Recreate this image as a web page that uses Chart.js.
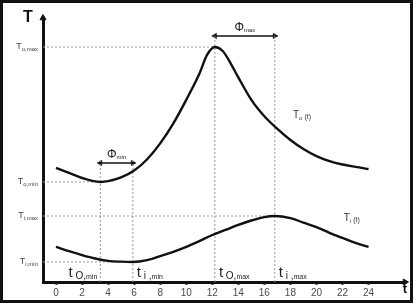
<!DOCTYPE html>
<html>
<head>
<meta charset="utf-8">
<script src="https://cdn.jsdelivr.net/npm/chart.js@4.4.1/dist/chart.umd.min.js"></script>
<style>
html,body{margin:0;padding:0;background:#fff;}
#c{position:absolute;left:0;top:0;}
#frame{position:absolute;left:0;top:0;width:407px;height:297px;border:3px solid #111;pointer-events:none;}
</style>
</head>
<body>
<canvas id="c" width="417" height="306"></canvas>
<div id="frame"></div>
<script>
// data (hours, relative temperature 0..100)
var xTicks = [0, 2, 4, 6, 8, 10, 12, 14, 16, 18, 20, 22, 24];

var toHours = [0, 1, 2, 3.4, 4, 5, 6, 7, 8, 9, 10, 11, 11.6, 12.2, 12.8, 13.3, 14, 15, 16, 17, 18, 19, 20, 21, 22, 23, 24];
var toTemps = [43.2, 41.3, 39.4, 37.9, 38.2, 39.6, 42.2, 46.5, 52.5, 60.0, 69.0, 78.8, 86.0, 89.0, 87.5, 83.8, 77.5, 69.0, 62.8, 58.0, 53.8, 50.4, 47.7, 45.8, 44.5, 43.6, 42.8];

var tiHours = [0, 1, 2, 3, 4, 5, 5.9, 7, 8, 9, 10, 11, 12, 13, 14, 15, 16, 16.8, 18, 19, 20, 21, 22, 23, 24];
var tiTemps = [13.3, 11.7, 10.2, 8.9, 8.0, 7.7, 7.6, 8.3, 9.8, 11.4, 13.3, 15.5, 17.8, 19.7, 21.6, 23.3, 24.6, 25.0, 24.2, 22.5, 20.8, 18.6, 16.7, 14.8, 13.3];

// extremes: T_o,min  T_i,min  T_o,max  T_i,max
var extNames = ['o', 'i', 'o', 'i'];
var extKinds = ['min', 'min', 'max', 'max'];
var extTimes = [3.4, 5.9, 12.2, 16.8];
var extTemps = [37.9, 7.6, 89.0, 25.0];

// phase shift arrows
var phiNames = ['min', 'max'];
var phiLevels = [45.1, 93.2];

var X_MIN = -1, X_MAX = 26.8, Y_MIN = 0, Y_MAX = 100;
var FONT = '"Liberation Sans", Arial, sans-serif';

function pts(xs, ys) {
  return xs.map(function (x, i) { return {x: x, y: ys[i]}; });
}

var datasets = [];
datasets.push({data: pts(toHours, toTemps), borderColor: '#111', borderWidth: 2.4, pointRadius: 0, cubicInterpolationMode: 'monotone'});
datasets.push({data: pts(tiHours, tiTemps), borderColor: '#111', borderWidth: 2.4, pointRadius: 0, cubicInterpolationMode: 'monotone'});

// dotted guide lines
for (var i = 0; i < extTimes.length; i++) {
  var guideTop = phiLevels[i < 2 ? 0 : 1] + 1;
  datasets.push({
    data: [{x: X_MIN, y: extTemps[i]}, {x: extTimes[i], y: extTemps[i]}],
    borderColor: '#999', borderWidth: 1, borderDash: [2, 2], pointRadius: 0, tension: 0
  });
  datasets.push({
    indexAxis: 'y',
    data: [{x: extTimes[i], y: Y_MIN}, {x: extTimes[i], y: guideTop}],
    borderColor: '#999', borderWidth: 1, borderDash: [2, 2], pointRadius: 0, tension: 0
  });
}

// phi arrows
for (var k = 0; k < phiLevels.length; k++) {
  datasets.push({
    data: [{x: extTimes[2 * k], y: phiLevels[k]}, {x: extTimes[2 * k + 1], y: phiLevels[k]}],
    borderColor: '#111', borderWidth: 1.5, tension: 0,
    pointStyle: 'triangle', pointRadius: 3.2, pointRotation: [270, 90],
    pointBackgroundColor: '#111', pointBorderColor: '#111', pointBorderWidth: 0.5
  });
}

// axis arrow heads
datasets.push({data: [{x: X_MIN, y: Y_MAX}], showLine: false, pointStyle: 'triangle', pointRadius: 3.5, pointRotation: 0,
  pointBackgroundColor: '#111', pointBorderColor: '#111', clip: false});
datasets.push({data: [{x: X_MAX, y: Y_MIN}], showLine: false, pointStyle: 'triangle', pointRadius: 3.5, pointRotation: 90,
  pointBackgroundColor: '#111', pointBorderColor: '#111', clip: false});

function drawParts(ctx, x, y, parts, align, color) {
  var w = 0;
  parts.forEach(function (p) {
    ctx.font = (p[3] || '') + ' ' + p[1] + 'px ' + FONT;
    w += ctx.measureText(p[0]).width;
  });
  var cx = align === 'right' ? x - w : (align === 'center' ? x - w / 2 : x);
  ctx.fillStyle = color || '#222';
  ctx.textAlign = 'left';
  ctx.textBaseline = 'alphabetic';
  parts.forEach(function (p) {
    ctx.font = (p[3] || '') + ' ' + p[1] + 'px ' + FONT;
    ctx.fillText(p[0], cx, y + p[2]);
    cx += ctx.measureText(p[0]).width;
  });
}

var labelsPlugin = {
  id: 'labels',
  afterDraw: function (chart) {
    var ctx = chart.ctx, xs = chart.scales.x, ys = chart.scales.y, area = chart.chartArea;
    ctx.save();
    // axis names
    drawParts(ctx, 28, 22, [['T', 16, 0, 'bold']], 'center', '#111');
    drawParts(ctx, 405, 293, [['t', 13, 0, 'bold']], 'center', '#111');

    // T values on the y axis
    for (var i = 0; i < extTemps.length; i++) {
      var py = ys.getPixelForValue(extTemps[i]);
      drawParts(ctx, area.left - 5, py + 2,
        [['T', 9, 0], [extNames[i] + ',' + extKinds[i], 6, 2]], 'right', '#444');
    }

    // t values along the bottom
    for (var j = 0; j < extTimes.length; j++) {
      var px = xs.getPixelForValue(extTimes[j]);
      var sub = extNames[j] === 'o' ? ' O,' : ' i ,';
      var parts = [['t', 15, 0], [sub, 10, 2], [extKinds[j], 7, 2]];
      if (j === 0) drawParts(ctx, px - 3, area.bottom - 5, parts, 'right', '#222');
      else drawParts(ctx, px + 4, area.bottom - 5, parts, 'left', '#222');
    }

    // phi labels
    for (var k = 0; k < phiLevels.length; k++) {
      var mid = (xs.getPixelForValue(extTimes[2 * k]) + xs.getPixelForValue(extTimes[2 * k + 1])) / 2;
      drawParts(ctx, mid, ys.getPixelForValue(phiLevels[k]) - 5, [['\u03A6', 12, 0], [phiNames[k], 6, 1]], 'center', '#222');
    }

    // curve names
    drawParts(ctx, xs.getPixelForValue(18.2), ys.getPixelForValue(62), [['T', 10, 0], ['o', 6, 2], [' (t)', 7, 1]], 'left', '#333');
    drawParts(ctx, xs.getPixelForValue(22.1), ys.getPixelForValue(23), [['T', 10, 0], ['i', 6, 2], [' (t)', 7, 1]], 'left', '#333');
    ctx.restore();
  }
};

new Chart(document.getElementById('c'), {
  type: 'line',
  data: {datasets: datasets},
  options: {
    responsive: false,
    animation: false,
    layout: {padding: {top: 18, right: 12, left: 0, bottom: 0}},
    plugins: {legend: {display: false}, tooltip: {enabled: false}},
    elements: {line: {tension: 0.4}},
    scales: {
      x: {
        type: 'linear', min: X_MIN, max: X_MAX,
        grid: {drawOnChartArea: false, drawTicks: true, tickLength: 3, tickWidth: 2, color: '#333'},
        border: {display: true, width: 3, color: '#111'},
        ticks: {color: '#4a4a4a', padding: 2, font: {size: 10, family: FONT}},
        afterBuildTicks: function (s) { s.ticks = xTicks.map(function (v) { return {value: v}; }); },
        afterFit: function (s) { s.height = 24; }
      },
      y: {
        type: 'linear', min: Y_MIN, max: Y_MAX,
        grid: {display: false},
        border: {display: true, width: 3, color: '#111'},
        ticks: {display: false},
        afterFit: function (s) { s.width = 43; }
      }
    }
  },
  plugins: [labelsPlugin]
});
</script>
</body>
</html>
